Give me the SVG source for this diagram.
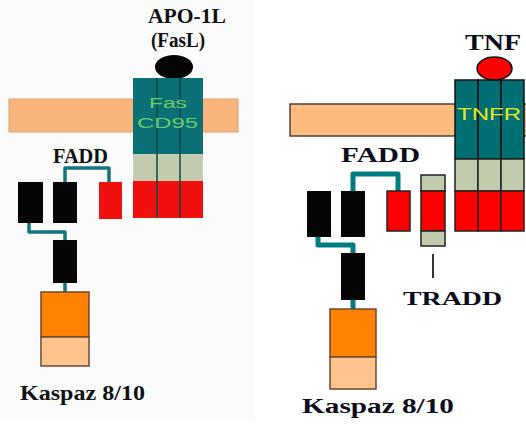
<svg xmlns="http://www.w3.org/2000/svg" width="526" height="427" viewBox="0 0 526 427">
<style>
.lbl{font-family:"Liberation Serif","Times New Roman",serif;font-weight:bold;fill:#111}
.rlbl{font-family:"Liberation Serif","Times New Roman",serif;font-weight:bold;fill:#0c0c20}
.teal{fill:#0b6f76}
.tealr{fill:#006f74;stroke:#111;stroke-width:1.5}
.gray{fill:#c4ccb0}
.grayr{fill:#c2cbab;stroke:#222;stroke-width:1.5}
.red{fill:#f01010}
.redr{fill:#ff0000;stroke:#222;stroke-width:1.5}
.blk{fill:#050505}
.link{fill:none;stroke:#13767c;stroke-width:3.5;stroke-linejoin:round}
.linkr{fill:none;stroke:#007b80;stroke-width:5;stroke-linecap:round;stroke-linejoin:round}
.orange{fill:#ff8200;stroke:#6a4a30;stroke-width:1.5}
.lorange{fill:#ffc38e;stroke:#6a4a30;stroke-width:1.5}
.rtxt{font-family:"Liberation Sans",Arial,sans-serif}
</style>
<rect width="526" height="427" fill="#ffffff"/>
<rect x="0" y="0" width="255" height="420" fill="#fbfbfb"/>

<!-- LEFT PANEL -->
<g id="membrane-left">
<rect x="9" y="99" width="229" height="33" fill="#f8b47a" stroke="#e0a070" stroke-width="1"/>
</g>
<g id="connectors-left">
<path class="link" d="M65,182 V168 H109 V182"/>
<path class="link" d="M29,222 V232 H65 V241"/>
<path class="link" d="M65,282 V293"/>
</g>
<g id="apo1l">
<ellipse cx="174" cy="67" rx="19" ry="12" fill="#050505"/>
<text class="lbl" x="187" y="23" font-size="21" text-anchor="middle" textLength="78" lengthAdjust="spacingAndGlyphs">APO-1L</text>
<text class="lbl" x="178" y="47" font-size="20" text-anchor="middle" style="font-weight:600" textLength="54" lengthAdjust="spacingAndGlyphs">(FasL)</text>
</g>
<g id="fas-receptor">
<rect class="teal" x="133" y="78" width="70" height="76"/>
<rect class="gray" x="133" y="154" width="70" height="27"/>
<rect class="red" x="133" y="181" width="70" height="37"/>
<path d="M157,78 V218 M180,78 V218" stroke="#0a4a4a" stroke-width="1.5" fill="none"/>
<text class="rtxt" x="149" y="108" font-size="14" fill="#6ccc6a" textLength="38" lengthAdjust="spacingAndGlyphs">Fas</text>
<text class="rtxt" x="137" y="128" font-size="14" fill="#6ccc6a" textLength="61" lengthAdjust="spacingAndGlyphs">CD95</text>
</g>
<g id="fadd-left">
<text class="lbl" x="53" y="163" font-size="20" textLength="55" lengthAdjust="spacingAndGlyphs">FADD</text>
<rect class="blk" x="18" y="182" width="25" height="41"/>
<rect class="blk" x="53" y="182" width="24" height="41"/>
<rect class="red" x="99" y="182" width="23" height="37"/>
</g>
<g id="adapter-left">
<rect class="blk" x="53" y="240" width="24" height="43"/>
</g>
<g id="caspase-left">
<rect class="orange" x="41" y="292" width="48" height="45"/>
<rect class="lorange" x="41" y="337" width="48" height="29"/>
<text class="lbl" x="20" y="400" font-size="22" style="font-weight:600" textLength="125" lengthAdjust="spacingAndGlyphs">Kaspaz 8/10</text>
</g>

<!-- RIGHT PANEL -->
<g id="membrane-right">
<rect x="290" y="104" width="240" height="32" fill="#fdbb7e" stroke="#444" stroke-width="1.5"/>
</g>
<g id="connectors-right">
<path class="linkr" d="M353,191 V174 H398 V190"/>
<path class="linkr" d="M318,237 V245 H353 V253"/>
<path class="linkr" d="M353,300 V309"/>
<line x1="433" y1="254" x2="433" y2="278" stroke="#333" stroke-width="2"/>
</g>
<g id="tnf">
<ellipse cx="494.5" cy="68.5" rx="17.5" ry="11.5" fill="#ff0000" stroke="#111" stroke-width="1.5"/>
<text class="rlbl" x="465" y="50" font-size="23" textLength="56" lengthAdjust="spacingAndGlyphs">TNF</text>
</g>
<g id="tnfr">
<rect class="tealr" x="455" y="80" width="23" height="79"/>
<rect class="tealr" x="478" y="80" width="23" height="79"/>
<rect class="tealr" x="501" y="80" width="23" height="79"/>
<rect class="grayr" x="455" y="159" width="23" height="32"/>
<rect class="grayr" x="478" y="159" width="23" height="32"/>
<rect class="grayr" x="501" y="159" width="23" height="32"/>
<rect class="redr" x="455" y="191" width="23" height="40"/>
<rect class="redr" x="478" y="191" width="23" height="40"/>
<rect class="redr" x="501" y="191" width="23" height="40"/>
<text class="rtxt" x="457" y="120" font-size="17" fill="#e6e61e" textLength="64" lengthAdjust="spacingAndGlyphs">TNFR</text>
</g>
<g id="fadd-right">
<text class="rlbl" x="341" y="162" font-size="20" textLength="79" lengthAdjust="spacingAndGlyphs">FADD</text>
<rect class="blk" x="307" y="191" width="24" height="46"/>
<rect class="blk" x="341" y="191" width="24" height="46"/>
<rect class="redr" x="387" y="191" width="23" height="40"/>
</g>
<g id="tradd">
<rect class="grayr" x="421" y="175" width="24" height="16"/>
<rect class="redr" x="421" y="191" width="24" height="40"/>
<rect class="grayr" x="421" y="231" width="24" height="15"/>
<text class="rlbl" x="403" y="305" font-size="19" textLength="99" lengthAdjust="spacingAndGlyphs">TRADD</text>
</g>
<g id="adapter-right">
<rect class="blk" x="341" y="253" width="24" height="47"/>
</g>
<g id="caspase-right">
<rect class="orange" x="330" y="309" width="46" height="48"/>
<rect class="lorange" x="330" y="357" width="46" height="32"/>
<text class="rlbl" x="302" y="413" font-size="21" textLength="152" lengthAdjust="spacingAndGlyphs">Kaspaz 8/10</text>
</g>
</svg>
